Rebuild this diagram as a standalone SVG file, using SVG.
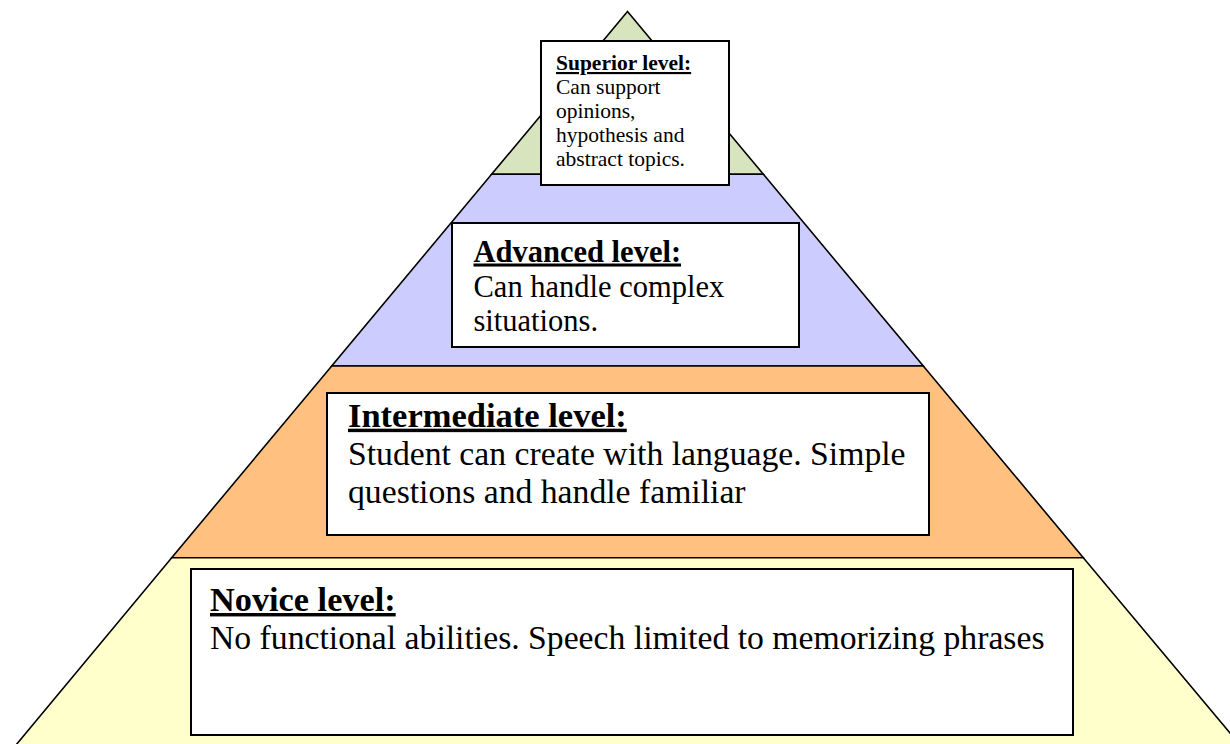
<svg xmlns="http://www.w3.org/2000/svg" width="1230" height="744" viewBox="0 0 1230 744">
  <style>
    .band { stroke: #000; stroke-width: 1.6; stroke-linejoin: miter; }
    .box { fill: #fff; stroke: #000; stroke-width: 2; }
    .t { font-family: "Liberation Serif", "Times New Roman", serif; fill: #000; }
    .h { font-weight: bold; text-decoration: underline; }
  </style>
  <rect width="1230" height="744" fill="#fff"/>

  <!-- pyramid bands, top to bottom -->
  <g id="pyramid">
    <polygon class="band" fill="#D7E4BD" points="627.5,11.5 763.4,174.3 491.6,174.3"/>
    <polygon class="band" fill="#CCCCFF" points="491.6,174.3 763.4,174.3 923.3,366 331.7,366"/>
    <polygon class="band" fill="#FFC080" points="331.7,366 923.3,366 1083.3,557.7 171.7,557.7"/>
    <polygon class="band" fill="#FFFFCC" points="171.7,557.7 1083.3,557.7 1240,745 16,745"/>
  </g>

  <g id="superior">
    <rect class="box" x="541" y="41" width="188" height="144"/>
    <g class="t" font-size="21.5">
      <text class="h" x="556" y="70">Superior level:</text>
      <text x="556" y="94">Can support</text>
      <text x="556" y="118">opinions,</text>
      <text x="556" y="142">hypothesis and</text>
      <text x="556" y="166">abstract topics.</text>
    </g>
  </g>

  <g id="advanced">
    <rect class="box" x="452" y="223" width="347" height="124"/>
    <g class="t" font-size="30.5">
      <text class="h" x="473.5" y="261.5">Advanced level:</text>
      <text x="473.5" y="296.5">Can handle complex</text>
      <text x="473.5" y="331">situations.</text>
    </g>
  </g>

  <g id="intermediate">
    <rect class="box" x="327" y="393" width="602" height="142"/>
    <g class="t" font-size="33.7">
      <text class="h" x="348" y="426.7" font-size="34.5">Intermediate level:</text>
      <text x="348" y="465">Student can create with language. Simple</text>
      <text x="348" y="503.3">questions and handle familiar</text>
    </g>
  </g>

  <g id="novice">
    <rect class="box" x="191" y="569" width="882" height="166"/>
    <g class="t" font-size="33.7">
      <text class="h" x="210" y="611" font-size="34.3">Novice level:</text>
      <text x="210" y="649">No functional abilities. Speech limited to memorizing phrases</text>
    </g>
  </g>
</svg>
